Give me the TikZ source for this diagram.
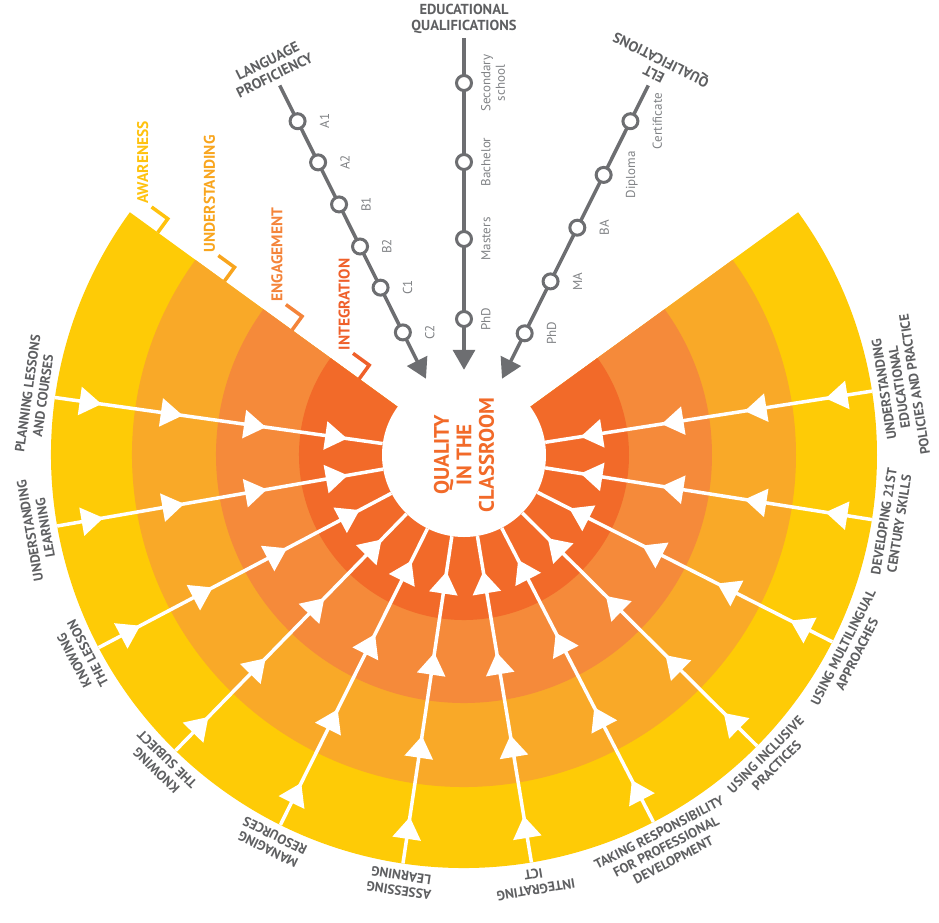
\documentclass[tikz,border=0pt]{standalone}
\usepackage{fontspec}
\setmainfont{PT Sans}
\usepackage{xcolor}
\definecolor{cAware}{HTML}{FECB06}
\definecolor{cUnder}{HTML}{F9A928}
\definecolor{cEngage}{HTML}{F58A3A}
\definecolor{cInteg}{HTML}{F26A29}
\definecolor{cAwareTxt}{HTML}{FFC20E}
\definecolor{cUnderTxt}{HTML}{F8A51E}
\definecolor{cEngageTxt}{HTML}{F4843A}
\definecolor{cIntegTxt}{HTML}{EF602A}
\definecolor{cLine}{HTML}{6D6E71}
\definecolor{cText}{HTML}{5E5F61}
\definecolor{cNote}{HTML}{808285}
\usepackage{tikz}
\usetikzlibrary{arrows.meta,calc}
\tikzset{
  ring-label/.style={font=\fontsize{15.5}{17}\selectfont\bfseries,rotate=90,
    anchor=south west,inner sep=0pt},
  ring-tick/.style={line width=3.5pt},
  spoke/.style={draw=white,line width=3.5pt},
  spoke-tip/.style={spoke,-{Triangle[length=22pt,width=28pt]}},
  area-label/.style={font=\fontsize{13.5}{15.5}\selectfont\bfseries,text=cText,
    align=center,inner sep=2pt},
  scale-line/.style={draw=cLine,line width=3.5pt,
    -{Triangle[length=20pt,width=22pt]},shorten >=3pt},
  scale-dot/.style={circle,draw=cLine,line width=3pt,fill=white,
    minimum size=15pt,inner sep=0pt},
  scale-note/.style={font=\fontsize{13}{14.5}\selectfont,text=cNote,
    rotate=90,anchor=north,align=center,inner sep=0pt},
  scale-title/.style={font=\fontsize{14.5}{16}\selectfont\bfseries,text=cText,
    align=center,inner sep=0pt},
  core/.style={circle,fill=white,minimum size=164pt,inner sep=0pt},
  core-text/.style={font=\fontsize{21}{22.5}\selectfont\bfseries,text=cInteg,
    rotate=90,align=center,inner sep=0pt},
}

\begin{document}
\begin{tikzpicture}[x=1pt,y=1pt]
  \useasboundingbox (-464,-467) rectangle (475,455);

  % the four levels
  \fill[cAware]  (0,0) -- (144:413) arc[start angle=144,end angle=396,radius=413] -- cycle;
  \fill[cUnder]  (0,0) -- (144:332) arc[start angle=144,end angle=396,radius=332] -- cycle;
  \fill[cEngage] (0,0) -- (144:248) arc[start angle=144,end angle=396,radius=248] -- cycle;
  \fill[cInteg]  (0,0) -- (144:165) arc[start angle=144,end angle=396,radius=165] -- cycle;
  \node[core] (core) at (0,0) {};
  \node[core-text] (core-txt) at (core) {QUALITY\\IN THE\\CLASSROOM};

  % spokes
  \foreach \k in {0,...,11}{
    \pgfmathsetmacro\a{172+17.9*\k}
    \coordinate (rim-\k) at (\a:413);
    \draw[spoke] (rim-\k) -- (core);
    \foreach \r in {366,284,200,118}
      \draw[spoke-tip] ({\a}:{\r+22}) -- ({\a}:\r);
  }

  \foreach \txt [count=\k from 0] in {{PLANNING LESSONS\\AND COURSES},
      {UNDERSTANDING\\LEARNING},{KNOWING\\THE LESSON},{KNOWING\\THE SUBJECT},
      {MANAGING\\RESOURCES},{ASSESSING\\LEARNING},{INTEGRATING\\ICT},
      {TAKING RESPONSIBILITY\\FOR PROFESSIONAL\\DEVELOPMENT},
      {USING INCLUSIVE\\PRACTICES},{USING MULTILINGUAL\\APPROACHES},
      {DEVELOPING 21ST\\CENTURY SKILLS},
      {UNDERSTANDING\\EDUCATIONAL\\POLICIES AND PRACTICE}}{
    \pgfmathsetmacro\a{172+17.9*\k}
    \ifnum\k<7
      \node[area-label,rotate=\a-90,anchor=south] (area-\k) at (\a:418) {\txt};
    \else
      \node[area-label,rotate=\a+90,anchor=north] (area-\k) at (\a:418) {\txt};
    \fi
  }

  % level markers on the left edge
  \foreach \r/\c/\t [count=\i] in {378.5/cAwareTxt/AWARENESS,
      296/cUnderTxt/UNDERSTANDING,212.5/cEngageTxt/ENGAGEMENT,
      129.5/cIntegTxt/INTEGRATION}{
    \coordinate (tick-\i) at (144:\r);
    \draw[ring-tick,draw=\c] (tick-\i) -- ++(54:17) -- ++(144:20) coordinate (tick-end-\i);
    \node[ring-label,text=\c] (level-\i) at ($(tick-end-\i)+(-3,3)$) {\t};
  }

  % language proficiency
  \coordinate (lp-start) at (116.5:413);
  \draw[scale-line] (lp-start) -- (core);
  \foreach \r/\t [count=\i] in {373/A1,327/A2,280/B1,233/B2,187/C1,137/C2}{
    \node[scale-dot] (lp-\i) at (116.5:\r) {};
    \node[scale-note] (lp-txt-\i) at ($(lp-\i)+(22,0)$) {\t};
  }
  \node[scale-title,rotate=26.5,anchor=south] (lp-title) at (116.5:419) {LANGUAGE\\PROFICIENCY};

  % educational qualifications
  \coordinate (eq-start) at (90:417);
  \draw[scale-line] (eq-start) -- (core);
  \foreach \r/\t [count=\i] in {372/{Secondary\\school},293/Bachelor,216/Masters,136/PhD}{
    \node[scale-dot] (eq-\i) at (90:\r) {};
    \node[scale-note] (eq-txt-\i) at ($(eq-\i)+(17,0)$) {\t};
  }
  \node[scale-title,anchor=south] (eq-title) at (90:421) {EDUCATIONAL\\QUALIFICATIONS};

  % ELT qualifications
  \coordinate (elt-start) at (63.5:413);
  \draw[scale-line] (elt-start) -- (core);
  \foreach \r/\t [count=\i] in {373/Certificate,313/Diploma,254/BA,194/MA,136/PhD}{
    \node[scale-dot] (elt-\i) at (63.5:\r) {};
    \node[scale-note] (elt-txt-\i) at ($(elt-\i)+(22,0)$) {\t};
  }
  \node[scale-title,rotate=153.5,anchor=north] (elt-title) at (63.5:420) {ELT\\QUALIFICATIONS};
\end{tikzpicture}
\end{document}
